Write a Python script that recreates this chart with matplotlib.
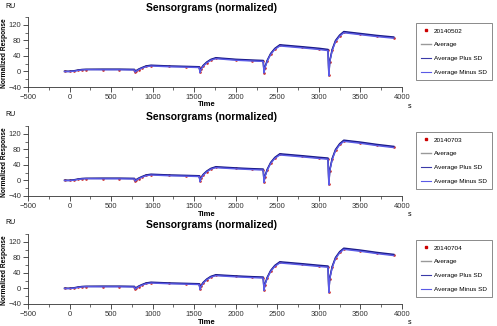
import matplotlib
matplotlib.use("Agg")
import matplotlib.pyplot as plt
from matplotlib.ticker import MultipleLocator, FixedLocator
from matplotlib.lines import Line2D

plt.rcParams['font.family'] = ['Liberation Sans', 'DejaVu Sans']

# time (s) and normalized response (RU)
time = [-60, 0, 50, 100, 150, 200, 400, 600, 780,
        790, 800, 830, 870, 920, 980, 1200, 1400, 1560,
        1570, 1580, 1610, 1650, 1700, 1760, 2000, 2200, 2330,
        2340, 2350, 2380, 2420, 2470, 2530, 2800, 3000, 3110,
        3120, 3130, 3160, 3200, 3250, 3300, 3500, 3700, 3900]

avg_0502 = [0, 0, 1, 3, 4.5, 5, 5, 5, 4.5,
            -1, 1, 5, 9, 13, 15, 13, 12, 11,
            -2, 6, 15, 23, 30, 34, 30, 28, 27,
            -3, 10, 28, 45, 58, 67, 62, 58, 55,
            -10, 25, 55, 78, 92, 101, 96, 91, 87]
avg_0703 = [0, 0, 1, 3, 4.5, 5, 5, 5, 4.5,
            -1, 1, 5, 9, 13, 15, 13, 12, 11,
            -2, 6, 15, 23, 30, 34, 31, 29, 28,
            -4, 10, 28, 45, 58, 67, 62, 58, 56,
            -10, 25, 55, 78, 93, 102, 97, 91, 86]
avg_0704 = [0, 0, 1, 3, 4.5, 5, 5, 5, 4.5,
            -1, 1, 5, 9, 13, 15, 13, 12, 11,
            -2, 6, 15, 23, 30, 34, 31, 29, 28,
            -4, 10, 28, 45, 58, 67, 62, 58, 56,
            -9, 25, 55, 78, 93, 102, 97, 91, 86]

sd = [0.5, 0.5, 0.5, 0.5, 0.5, 0.5, 0.8, 0.8, 0.8,
      0.8, 0.8, 0.8, 0.8, 1, 1, 1, 1, 1,
      1, 1, 1, 1, 1, 1.2, 1.2, 1.2, 1.2,
      1.2, 1.2, 1.2, 1.2, 1.2, 1.5, 1.5, 1.5, 1.5,
      1.5, 1.5, 1.5, 1.5, 1.5, 1.5, 1.5, 1.5, 1.5]

runs = ['20140502', '20140703', '20140704']
averages = [avg_0502, avg_0703, avg_0704]

W, H = 497, 326
fig = plt.figure(figsize=(W / 100, H / 100), dpi=100)

def fx(px):
    return px / W

def fy(py):
    return 1 - py / H

# pixel layout of each panel: (axes top, axes bottom)
panel_px = [(17, 87), (126, 196), (234, 304)]
left, right = 28, 402

for i, (top, bot) in enumerate(panel_px):
    ax = fig.add_axes([fx(left), fy(bot), fx(right - left), (bot - top) / H])
    avg = averages[i]
    plus = [a + s for a, s in zip(avg, sd)]
    minus = [a - s for a, s in zip(avg, sd)]
    ax.plot(time, avg, ls='none', marker='s', ms=0.8, color='#cc2222', zorder=2)
    ax.plot(time, avg, color='#888888', lw=1.0, zorder=3)
    ax.plot(time, plus, color='#1c1c8c', lw=1.1, zorder=4)
    ax.plot(time, minus, color='#5a5ae6', lw=1.0, zorder=4)

    ax.set_xlim(-500, 4000)
    ax.set_ylim(-40, 140)
    ax.xaxis.set_major_locator(MultipleLocator(500))
    ax.xaxis.set_minor_locator(MultipleLocator(250))
    ax.yaxis.set_major_locator(FixedLocator([-40, 0, 40, 80, 120]))
    ax.yaxis.set_minor_locator(MultipleLocator(20))
    ax.tick_params(which='major', length=3.5, width=0.6, labelsize=5.5, pad=1.5, colors='#333333')
    ax.tick_params(which='minor', length=2, width=0.5, colors='#333333')
    for s in ['top', 'right']:
        ax.spines[s].set_visible(False)
    for s in ['left', 'bottom']:
        ax.spines[s].set_linewidth(0.6)
        ax.spines[s].set_color('#333333')

    off = top - 17
    fig.text(fx(212), fy(8 + off), 'Sensorgrams (normalized)', ha='center', va='center',
             fontsize=7.5, fontweight='bold')
    fig.text(fx(10), fy(6 + off), 'RU', ha='center', va='center', fontsize=5)
    fig.text(fx(207), fy(105 + off), 'Time', ha='center', va='center', fontsize=5.5, fontweight='bold')
    fig.text(fx(410), fy(106 + off), 's', ha='center', va='center', fontsize=5)
    fig.text(fx(5), fy(53 + off), 'Normalized Response', ha='center', va='center',
             rotation=90, fontsize=4.8, fontweight='bold')

    handles = [
        Line2D([], [], ls='none', marker='s', ms=1.8, color='#cc0000'),
        Line2D([], [], color='#999999', lw=1),
        Line2D([], [], color='#3a3aa8', lw=0.8),
        Line2D([], [], color='#5a5ae6', lw=0.8),
    ]
    labels = [runs[i], 'Average', 'Average Plus SD', 'Average Minus SD']
    leg = fig.legend(handles, labels, loc='upper left',
                     bbox_to_anchor=(fx(416), fy(23 + off)), fontsize=4.6,
                     handlelength=1.5, handletextpad=0.5, labelspacing=1.3,
                     borderpad=0.8, borderaxespad=0, fancybox=False, frameon=True)
    leg.get_frame().set_edgecolor('#555555')
    leg.get_frame().set_linewidth(0.6)

fig.savefig('out.png', dpi=100)
